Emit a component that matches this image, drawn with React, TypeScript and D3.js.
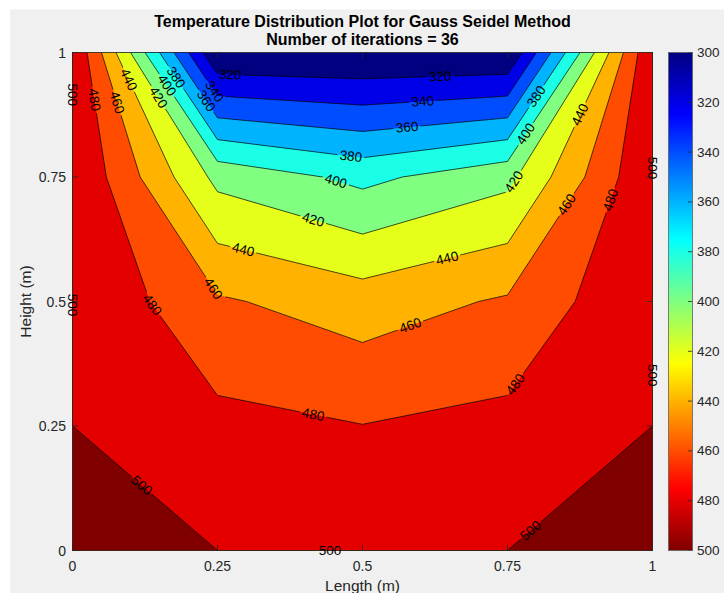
import React from 'react';
import * as d3 from 'd3';

// grid coordinates (m)
const xValues = [0, 0.25, 0.5, 0.75, 1];
const yValues = [0, 0.25, 0.5, 0.75, 1];
// temperature rows, bottom (y = 0) to top (y = 1)
const tempRow0 = [500, 500, 500, 500, 500];
const tempRow1 = [500, 485.7, 480.4, 485.7, 500];
const tempRow2 = [500, 462.5, 450.0, 462.5, 500];
const tempRow3 = [500, 414.3, 394.6, 414.3, 500];
const tempRow4 = [500, 300, 300, 300, 500];
const levels = [300, 320, 340, 360, 380, 400, 420, 440, 460, 480, 500];
const xTicks = [0, 0.25, 0.5, 0.75, 1];
const yTicks = [0, 0.25, 0.5, 0.75, 1];
const colorTicks = [300, 320, 340, 360, 380, 400, 420, 440, 460, 480, 500];
const titleLines = ['Temperature Distribution Plot for Gauss Seidel Method', 'Number of iterations = 36'];

// contour label anchors (level, approximate location in data units)
const labelLevels = [500, 480, 460, 440, 420, 400, 380, 360, 340, 320, 320, 340, 360, 380, 400, 420, 440, 440, 460, 460, 480, 480, 480, 500, 500, 500, 500, 500, 500, 380, 400, 420, 440, 460, 480];
const labelX = [0, 0.037, 0.075, 0.096, 0.147, 0.159, 0.177, 0.228, 0.249, 0.272, 0.634, 0.604, 0.577, 0.48, 0.453, 0.415, 0.294, 0.646, 0.244, 0.582, 0.137, 0.415, 0.761, 0, 0.116, 0.444, 0.792, 1, 1, 0.801, 0.782, 0.754, 0.877, 0.853, 0.927];
const labelY = [0.915, 0.905, 0.899, 0.945, 0.909, 0.931, 0.949, 0.901, 0.925, 0.957, 0.951, 0.901, 0.848, 0.792, 0.738, 0.664, 0.603, 0.587, 0.527, 0.453, 0.493, 0.272, 0.336, 0.493, 0.126, 0, 0.037, 0.352, 0.768, 0.911, 0.836, 0.746, 0.874, 0.694, 0.704];

const FONT = '"Liberation Sans", Arial, Helvetica, sans-serif';
const TXT = '#262626';

function jet(t: number): string {
  const c = (v: number) => Math.round(255 * Math.max(0, Math.min(1, v)));
  return `rgb(${c(1.5 - Math.abs(4 * t - 3))},${c(1.5 - Math.abs(4 * t - 2))},${c(1.5 - Math.abs(4 * t - 1))})`;
}

export default function App() {
  const W = 724, H = 593;
  const left = 72.5, right = 652.5, top = 52.5, bottom = 550.5;
  const cbLeft = 668.5, cbRight = 692.5;
  const x = d3.scaleLinear().domain([0, 1]).range([left, right]);
  const y = d3.scaleLinear().domain([0, 1]).range([bottom, top]);
  const cScale = d3.scaleLinear().domain([300, 500]).range([top, bottom]);
  const rows = [tempRow0, tempRow1, tempRow2, tempRow3, tempRow4];
  const nx = xValues.length, ny = yValues.length;
  const vmin = 300, vmax = 500;
  const colorOf = (v: number) => jet((v - vmin) / (vmax - vmin));

  // filled contours
  const flat: number[] = [];
  for (let j = ny - 1; j >= 0; j--) for (let i = 0; i < nx; i++) flat.push(rows[j][i]);
  const contours = d3.contours().size([nx, ny]).thresholds(levels)(flat);
  const dxStep = (xValues[nx - 1] - xValues[0]) / (nx - 1);
  const dyStep = (yValues[ny - 1] - yValues[0]) / (ny - 1);
  const mapPt = (p: number[]) => [x(xValues[0] + (p[0] - 0.5) * dxStep), y(yValues[ny - 1] - (p[1] - 0.5) * dyStep)];
  const fillPaths = contours.map((c: any) => {
    let d = '';
    c.coordinates.forEach((poly: number[][][]) => poly.forEach((ring) => {
      ring.forEach((p, k) => {
        const q = mapPt(p);
        d += (k === 0 ? 'M' : 'L') + q[0].toFixed(2) + ',' + q[1].toFixed(2);
      });
      d += 'Z';
    }));
    return { value: c.value, d };
  });

  // contour line segments (marching squares)
  const segsFor = (L: number) => {
    const segs: number[][][] = [];
    for (let j = 0; j < ny - 1; j++) for (let i = 0; i < nx - 1; i++) {
      const corners = [[i, j], [i + 1, j], [i + 1, j + 1], [i, j + 1]];
      const pts: number[][] = [];
      for (let k = 0; k < 4; k++) {
        const [ai, aj] = corners[k], [bi, bj] = corners[(k + 1) % 4];
        const va = rows[aj][ai], vb = rows[bj][bi];
        if ((va >= L) !== (vb >= L)) {
          const t = (L - va) / (vb - va);
          pts.push([x(xValues[ai] + t * (xValues[bi] - xValues[ai])), y(yValues[aj] + t * (yValues[bj] - yValues[aj]))]);
        }
      }
      if (pts.length === 2) segs.push([pts[0], pts[1]]);
      else if (pts.length === 4) { segs.push([pts[0], pts[1]]); segs.push([pts[2], pts[3]]); }
    }
    return segs.filter(s => Math.hypot(s[1][0] - s[0][0], s[1][1] - s[0][1]) > 0.01);
  };
  const lineSegs = levels.map(L => ({ L, segs: segsFor(L) }));
  const lineD = lineSegs.map(ls => ls.segs.map(s => `M${s[0][0].toFixed(2)},${s[0][1].toFixed(2)}L${s[1][0].toFixed(2)},${s[1][1].toFixed(2)}`).join('')).join('');

  // labels snapped to contour lines
  const labels = labelLevels.map((L, idx) => {
    const ax = x(labelX[idx]), ay = y(labelY[idx]);
    const segs = lineSegs.find(ls => ls.L === L)!.segs;
    let best = { d: Infinity, px: ax, py: ay, ang: 0 };
    segs.forEach(s => {
      const [p, q] = s;
      const vx = q[0] - p[0], vy = q[1] - p[1];
      let t = ((ax - p[0]) * vx + (ay - p[1]) * vy) / (vx * vx + vy * vy);
      t = Math.max(0, Math.min(1, t));
      const px = p[0] + t * vx, py = p[1] + t * vy;
      const d = Math.hypot(px - ax, py - ay);
      if (d < best.d) {
        let ang = Math.atan2(vy, vx) * 180 / Math.PI;
        if (ang > 90) ang -= 180;
        if (ang <= -90) ang += 180;
        best = { d, px, py, ang };
      }
    });
    return { text: String(L), x: best.px, y: best.py, ang: best.ang };
  });

  const gradStops = d3.range(0, 65).map(k => ({ off: k / 64, col: jet(k / 64) }));
  const tickLen = 5.8;

  return (
    <div style={{ position: 'fixed', left: 0, top: 0 }}>
      <svg width={W} height={H} style={{ display: 'block' }} fontFamily={FONT}>
        <defs>
          <clipPath id="plotClip"><rect x={left} y={top} width={right - left} height={bottom - top} /></clipPath>
          <linearGradient id="jetGrad" x1="0" y1="0" x2="0" y2="1">
            {gradStops.map((s, k) => <stop key={k} offset={s.off} stopColor={s.col} />)}
          </linearGradient>
          <mask id="labelMask" maskUnits="userSpaceOnUse" x={0} y={0} width={W} height={H}>
            <rect x={0} y={0} width={W} height={H} fill="white" />
            {labels.map((lb, k) => (
              <rect key={k} x={-13.5} y={-6.5} width={27} height={13} fill="black"
                transform={`translate(${lb.x},${lb.y}) rotate(${lb.ang})`} />
            ))}
          </mask>
        </defs>
        <rect x={0} y={0} width={W} height={H} fill="#ffffff" />
        <rect x={10} y={9.5} width={W - 10} height={H - 9.5} fill="#f0f0f0" />

        <g clipPath="url(#plotClip)">
          {fillPaths.map((p, k) => <path key={k} d={p.d} fill={colorOf(p.value)} fillRule="evenodd" stroke="none" />)}
          <path d={lineD} fill="none" stroke="#000" strokeWidth={0.7} mask="url(#labelMask)" />
        </g>

        {/* axes box and ticks */}
        <rect x={left} y={top} width={right - left} height={bottom - top} fill="none" stroke={TXT} strokeWidth={0.8} />
        {xTicks.map((t, k) => (
          <g key={'xt' + k}>
            <line x1={x(t)} x2={x(t)} y1={bottom} y2={bottom - tickLen} stroke={TXT} strokeWidth={0.8} />
            <line x1={x(t)} x2={x(t)} y1={top} y2={top + tickLen} stroke={TXT} strokeWidth={0.8} />
            <text x={x(t)} y={566} fontSize={14} fill={TXT} textAnchor="middle" dominantBaseline="central">{String(t)}</text>
          </g>
        ))}
        {yTicks.map((t, k) => (
          <g key={'yt' + k}>
            <line x1={left} x2={left + tickLen} y1={y(t)} y2={y(t)} stroke={TXT} strokeWidth={0.8} />
            <line x1={right} x2={right - tickLen} y1={y(t)} y2={y(t)} stroke={TXT} strokeWidth={0.8} />
            <text x={66} y={y(t)} fontSize={14} fill={TXT} textAnchor="end" dominantBaseline="central">{String(t)}</text>
          </g>
        ))}

        {/* contour labels */}
        {labels.map((lb, k) => (
          <text key={'lb' + k} fontSize={13.5} fill="#000" textAnchor="middle" dominantBaseline="central"
            transform={`translate(${lb.x},${lb.y}) rotate(${lb.ang})`}>{lb.text}</text>
        ))}

        {/* axis labels */}
        <text x={(left + right) / 2} y={585} fontSize={15.5} fill={TXT} textAnchor="middle" dominantBaseline="central">Length (m)</text>
        <text transform={`translate(25,${(top + bottom) / 2}) rotate(-90)`} fontSize={15.5} fill={TXT} textAnchor="middle" dominantBaseline="central">Height (m)</text>

        {/* title */}
        {titleLines.map((t, k) => (
          <text key={'ti' + k} x={(left + right) / 2} y={21 + k * 18} fontSize={16} fontWeight="bold" fill="#000" textAnchor="middle" dominantBaseline="central">{t}</text>
        ))}

        {/* colorbar */}
        <rect x={cbLeft} y={top} width={cbRight - cbLeft} height={bottom - top} fill="url(#jetGrad)" stroke="none" />
        {colorTicks.map((t, k) => (
          <g key={'ct' + k}>
            <line x1={cbRight} x2={cbRight - 4.5} y1={cScale(t)} y2={cScale(t)} stroke={TXT} strokeWidth={0.8} />
            <text x={697} y={cScale(t)} fontSize={13.5} fill={TXT} textAnchor="start" dominantBaseline="central">{String(t)}</text>
          </g>
        ))}
        <rect x={cbLeft} y={top} width={cbRight - cbLeft} height={bottom - top} fill="none" stroke="#606060" strokeWidth={0.8} />
      </svg>
    </div>
  );
}
